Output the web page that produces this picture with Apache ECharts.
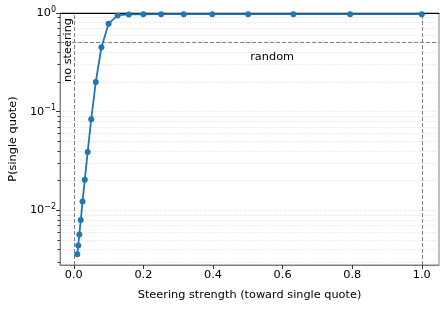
<!DOCTYPE html>
<html>
<head>
<meta charset="utf-8">
<script src="https://cdn.jsdelivr.net/npm/echarts@6/dist/echarts.min.js"></script>
<style>html,body{margin:0;padding:0;background:#fff}#c{width:448px;height:309px}</style>
</head>
<body>
<div id="c"></div>
<script>
// Steering strength (x) and probability of single quote (y)
const steering = [0.01, 0.0126, 0.0158, 0.0200, 0.0251, 0.0316, 0.0398, 0.0501, 0.0631, 0.0794, 0.1, 0.126, 0.158, 0.2, 0.251, 0.316, 0.398, 0.501, 0.631, 0.794, 1.0];
const pSingle = [0.0036, 0.0044, 0.0057, 0.0080, 0.0123, 0.0205, 0.039, 0.084, 0.20, 0.45, 0.78, 0.945, 0.968, 0.97, 0.972, 0.972, 0.973, 0.973, 0.973, 0.973, 0.973];
const xTicks = [0.0, 0.2, 0.4, 0.6, 0.8, 1.0];
const yMajorTicks = [0.01, 0.1, 1];
const yMinorTicks = [0.003, 0.004, 0.005, 0.006, 0.007, 0.008, 0.009,
  0.02, 0.03, 0.04, 0.05, 0.06, 0.07, 0.08, 0.09,
  0.2, 0.3, 0.4, 0.5, 0.6, 0.7, 0.8, 0.9];
const randomLevel = 0.5;
const noSteeringX = 0;
const fullSteeringX = 1.0;

const FONT = 'DejaVu Sans';
const FS = 11.3;
const X_MIN = -0.0395, X_MAX = 1.0495;
const Y_MIN = 0.0028, Y_MAX = 1;

function supLabel(v) {
  const e = Math.round(Math.log10(v));
  const s = e < 0 ? '\u2212' + (-e) : String(e);
  return '{b|10}{s|' + s + '}';
}

const chart = echarts.init(document.getElementById('c'), null, {renderer: 'canvas'});
const dashed = {color: '#808080', width: 1, type: [4, 2]};

chart.setOption({
  animation: false,
  grid: {left: 59, right: 9, top: 13, bottom: 44, show: true, borderColor: '#808080', borderWidth: 1},
  xAxis: [{
    type: 'value', min: X_MIN, max: X_MAX,
    name: 'Steering strength (toward single quote)', nameLocation: 'middle', nameGap: 25,
    nameTextStyle: {fontFamily: FONT, fontSize: FS, color: '#000'},
    axisLine: {show: true, onZero: false, lineStyle: {color: '#808080', width: 1}},
    axisTick: {show: true, length: 4, customValues: xTicks, lineStyle: {color: '#333'}},
    axisLabel: {customValues: xTicks, fontFamily: FONT, fontSize: FS, color: '#000', margin: 5,
      formatter: v => v.toFixed(1)},
    splitLine: {show: false}
  }, {
    type: 'value', position: 'top', min: X_MIN, max: X_MAX,
    axisLine: {show: true, onZero: false, lineStyle: {color: '#000', width: 1}},
    axisTick: {show: false}, axisLabel: {show: false}, splitLine: {show: false}
  }],
  yAxis: [{
    type: 'log', logBase: 10, min: Y_MIN, max: Y_MAX, position: 'left',
    name: 'P(single quote)', nameLocation: 'middle', nameGap: 37,
    nameTextStyle: {fontFamily: FONT, fontSize: FS, color: '#000'},
    axisLine: {show: true, onZero: false, lineStyle: {color: '#808080', width: 1}},
    axisTick: {show: true, length: 4, customValues: yMajorTicks, lineStyle: {color: '#333'}},
    axisLabel: {customValues: yMajorTicks, margin: 4, formatter: supLabel,
      rich: {
        b: {fontFamily: FONT, fontSize: FS, color: '#000'},
        s: {fontFamily: FONT, fontSize: 8, color: '#000', verticalAlign: 'top', padding: [0, 0, 7, 0]}
      }},
    splitLine: {show: false}
  }, {
    type: 'log', logBase: 10, min: Y_MIN, max: Y_MAX, position: 'left',
    axisLine: {show: false, onZero: false},
    axisTick: {show: true, length: 2.5, customValues: yMinorTicks.concat(yMajorTicks), lineStyle: {color: '#333', width: 1}},
    axisLabel: {show: false},
    splitLine: {show: true, lineStyle: {color: '#d9d9d9', width: 0.8, type: [1, 1.5]}}
  }],
  series: [{
    type: 'line', xAxisIndex: 0, yAxisIndex: 0,
    data: steering.map((x, i) => [x, pSingle[i]]),
    symbol: 'circle', symbolSize: 6, showSymbol: true,
    lineStyle: {color: '#1f77b4', width: 1.8},
    itemStyle: {color: '#1f77b4'},
    z: 5,
    markLine: {
      silent: true, symbol: 'none', label: {show: false},
      lineStyle: dashed,
      data: [{yAxis: randomLevel}, {xAxis: noSteeringX}, {xAxis: fullSteeringX}]
    }
  }]
});

const pNo = chart.convertToPixel({xAxisIndex: 0, yAxisIndex: 0}, [noSteeringX, Y_MAX]);
const pRand = chart.convertToPixel({xAxisIndex: 0, yAxisIndex: 0}, [0.507, randomLevel]);
chart.setOption({
  graphic: [{
    type: 'text', x: pNo[0] - 0.5, y: pNo[1] + 5, rotation: Math.PI / 2,
    style: {text: 'no steering', fontFamily: FONT, fontSize: FS, fill: '#000', align: 'right', verticalAlign: 'bottom'}
  }, {
    type: 'text', x: pRand[0], y: pRand[1] + 14,
    style: {text: 'random', fontFamily: FONT, fontSize: FS, fill: '#000', align: 'left', verticalAlign: 'middle'}
  }]
});
</script>
</body>
</html>
